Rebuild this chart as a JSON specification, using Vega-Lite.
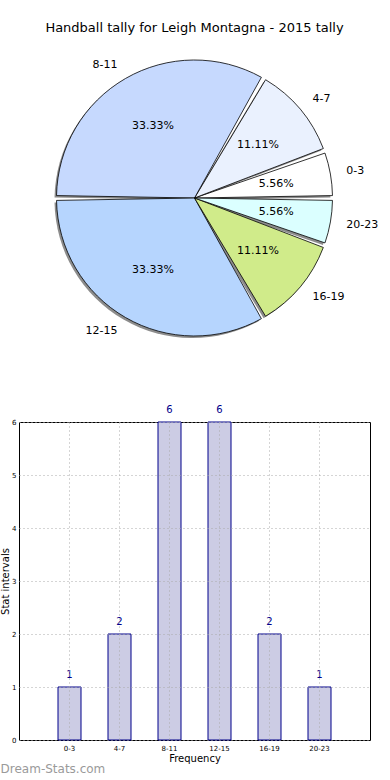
{
  "$schema": "https://vega.github.io/schema/vega-lite/v6.json",
  "padding": {"left": 0, "top": 22, "right": 0, "bottom": 0},
  "background": "white",
  "config": {
    "font": "DejaVu Sans",
    "view": {"stroke": null}
  },
  "datasets": {
    "tally": [
      {"k": 0, "cat": "0-3", "count": 1, "pct": 0.05556},
      {"k": 1, "cat": "4-7", "count": 2, "pct": 0.11111},
      {"k": 2, "cat": "8-11", "count": 6, "pct": 0.33333},
      {"k": 3, "cat": "12-15", "count": 6, "pct": 0.33333},
      {"k": 4, "cat": "16-19", "count": 2, "pct": 0.11111},
      {"k": 5, "cat": "20-23", "count": 1, "pct": 0.05556}
    ]
  },
  "vconcat": [
    {
      "width": 351,
      "height": 318,
      "title": {"text": "Handball tally for Leigh Montagna - 2015 tally", "fontSize": 13, "fontWeight": "normal", "font": "DejaVu Sans", "color": "#000000", "anchor": "middle"},
      "data": {"name": "tally"},
      "encoding": {
        "theta": {"field": "count", "type": "quantitative", "stack": true, "scale": {"domain": [0, 18], "range": [1.5708, -4.7124]}},
        "order": {"field": "k", "type": "quantitative"}
      },
      "layer": [
        {
          "mark": {"type": "arc", "outerRadius": 138, "padAngle": 0.035, "fill": "#000000", "opacity": 0.45, "xOffset": -2, "yOffset": 2}
        },
        {
          "mark": {"type": "arc", "outerRadius": 138, "padAngle": 0.035, "stroke": "#000000", "strokeWidth": 0.8},
          "encoding": {
            "fill": {"field": "cat", "type": "nominal", "legend": null,
              "scale": {"domain": ["0-3", "4-7", "8-11", "12-15", "16-19", "20-23"],
                        "range": ["#ffffff", "#eaf1fe", "#c6d9fe", "#b6d5fe", "#d0eb8a", "#dbffff"]}}
          }
        },
        {
          "mark": {"type": "text", "radius": 83, "fontSize": 11, "color": "#000000", "baseline": "middle"},
          "encoding": {"text": {"field": "pct", "type": "quantitative", "format": ".2%"}}
        },
        {
          "mark": {"type": "text", "radius": 154, "fontSize": 11, "color": "#000000", "baseline": "middle", "align": "left"},
          "encoding": {"text": {"condition": {"test": "indexof(['8-11','12-15'], datum.cat) < 0", "field": "cat"}, "value": ""}}
        },
        {
          "mark": {"type": "text", "radius": 154, "fontSize": 11, "color": "#000000", "baseline": "middle", "align": "right"},
          "encoding": {"text": {"condition": {"test": "indexof(['8-11','12-15'], datum.cat) >= 0", "field": "cat"}, "value": ""}}
        }
      ]
    },
    {
      "width": 351,
      "height": 318,
      "view": {"stroke": "#000000", "strokeWidth": 1},
      "title": {"text": "Dream-Stats.com", "orient": "bottom", "anchor": "start", "frame": "bounds", "fontSize": 12, "fontWeight": "normal", "color": "#9a9a9a", "offset": 1},
      "data": {"name": "tally"},
      "encoding": {
        "x": {"field": "cat", "type": "nominal", "sort": {"field": "k"},
              "scale": {"paddingInner": 0.54, "paddingOuter": 0.78},
              "axis": {"title": "Frequency", "labelAngle": 0, "labelFontSize": 7, "titleFontSize": 10, "titleFontWeight": "normal", "ticks": false, "labelPadding": 4, "titlePadding": 2, "domain": false, "grid": true, "gridColor": "#aaaaaa", "gridDash": [1, 3], "zindex": 1, "labelColor": "#000000", "titleColor": "#000000"}},
        "y": {"field": "count", "type": "quantitative",
              "scale": {"domain": [0, 6], "nice": false},
              "axis": {"title": "Stat intervals", "values": [0, 1, 2, 3, 4, 5, 6], "format": "d", "labelFontSize": 7, "titleFontSize": 10, "titleFontWeight": "normal", "ticks": false, "labelPadding": 3, "titlePadding": 1, "domain": false, "grid": true, "gridColor": "#aaaaaa", "gridDash": [1, 3], "zindex": 1, "labelColor": "#000000", "titleColor": "#000000"}}
      },
      "layer": [
        {"mark": {"type": "bar", "fill": "#cccce4", "stroke": "#00008b", "strokeWidth": 1}},
        {"mark": {"type": "text", "dy": -7, "fontSize": 10, "color": "#00008b", "baseline": "bottom"},
         "encoding": {"text": {"field": "count", "type": "quantitative"}}}
      ]
    }
  ],
  "spacing": 47
}
